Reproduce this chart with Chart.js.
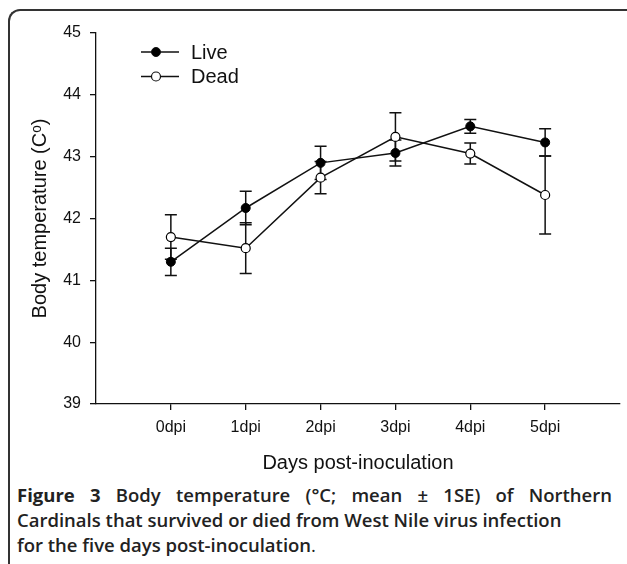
<!DOCTYPE html>
<html>
<head>
<meta charset="utf-8">
<script src="https://cdn.jsdelivr.net/npm/chart.js@4.4.0/dist/chart.umd.min.js"></script>
<style>
  html, body { margin: 0; padding: 0; background: #fff; }
  body { width: 627px; height: 564px; position: relative; overflow: hidden; }
  #frame {
    position: absolute; left: 8px; top: 9px; width: 640px; height: 600px;
    border-left: 2px solid #333; border-top: 2px solid #333;
    border-top-left-radius: 12px;
  }
  #wrap { position: absolute; left: 0; top: 0; width: 627px; height: 480px; }
  #caption {
    position: absolute; left: 17px; top: 482px; width: 595px;
    font-family: "Open Sans", sans-serif; font-size: 18.5px; font-weight: 600;
    line-height: 25px; color: #222;
  }
  #caption .j { text-align: justify; text-align-last: justify; }
  #caption b { font-weight: 700; }
</style>
</head>
<body>
<div id="frame"></div>
<div id="wrap"><canvas id="tempChart" width="627" height="480"></canvas></div>
<div id="caption">
  <div class="j"><b>Figure 3</b> Body temperature (°C; mean ± 1SE) of Northern</div>
  <div>Cardinals that survived or died from West Nile virus infection</div>
  <div>for the five days post-inoculation<span style="font-weight:400">.</span></div>
</div>
<script>
// days post-inoculation and mean body temperature (± 1 SE)
const days = ["0dpi", "1dpi", "2dpi", "3dpi", "4dpi", "5dpi"];
const liveMean = [41.30, 42.17, 42.90, 43.06, 43.49, 43.23];
const liveSE = [0.22, 0.27, 0.27, 0.21, 0.11, 0.22];
const deadMean = [41.70, 41.52, 42.66, 43.32, 43.05, 42.38];
const deadSE = [0.36, 0.41, 0.26, 0.39, 0.17, 0.63];
const yTicks = [39, 40, 41, 42, 43, 44, 45];

const fontFamily = "'Liberation Sans', Arial, sans-serif";

function toPoints(values) {
  return values.map((v, i) => ({ x: i, y: v }));
}

// vertical error bars with caps, drawn under the markers
const errorBars = {
  id: "errorBars",
  beforeDatasetsDraw(chart) {
    const ctx = chart.ctx;
    const xs = chart.scales.x, ys = chart.scales.y;
    ctx.save();
    ctx.strokeStyle = "#111";
    ctx.lineWidth = 1.5;
    chart.data.datasets.forEach(ds => {
      ds.data.forEach((p, i) => {
        const px = xs.getPixelForValue(p.x);
        const top = ys.getPixelForValue(p.y + ds.errors[i]);
        const bot = ys.getPixelForValue(p.y - ds.errors[i]);
        ctx.beginPath();
        ctx.moveTo(px, top);
        ctx.lineTo(px, bot);
        ctx.moveTo(px - 6, top);
        ctx.lineTo(px + 6, top);
        ctx.moveTo(px - 6, bot);
        ctx.lineTo(px + 6, bot);
        ctx.stroke();
      });
    });
    ctx.restore();
  }
};

// SigmaPlot style legend inside the plot area
const innerLegend = {
  id: "innerLegend",
  afterDraw(chart) {
    const ctx = chart.ctx;
    ctx.save();
    chart.data.datasets.forEach((ds, i) => {
      const y = 52 + i * 24.5;
      ctx.strokeStyle = "#111";
      ctx.lineWidth = 1.5;
      ctx.beginPath();
      ctx.moveTo(141, y);
      ctx.lineTo(179, y);
      ctx.stroke();
      ctx.beginPath();
      ctx.arc(156, y, ds.pointRadius, 0, Math.PI * 2);
      ctx.fillStyle = ds.pointBackgroundColor;
      ctx.fill();
      ctx.lineWidth = ds.pointBorderWidth;
      ctx.stroke();
      ctx.fillStyle = "#111";
      ctx.font = "20px " + fontFamily;
      ctx.textBaseline = "middle";
      ctx.fillText(ds.label, 191, y + 1);
    });
    ctx.restore();
  }
};

new Chart(document.getElementById("tempChart"), {
  type: "line",
  data: {
    datasets: [
      {
        label: "Live",
        data: toPoints(liveMean),
        errors: liveSE,
        borderColor: "#111",
        borderWidth: 1.5,
        pointRadius: 4.5,
        pointBackgroundColor: "#000",
        pointBorderColor: "#000",
        pointBorderWidth: 1,
        tension: 0
      },
      {
        label: "Dead",
        data: toPoints(deadMean),
        errors: deadSE,
        borderColor: "#111",
        borderWidth: 1.5,
        pointRadius: 4.5,
        pointBackgroundColor: "#fff",
        pointBorderColor: "#000",
        pointBorderWidth: 1.2,
        tension: 0
      }
    ]
  },
  options: {
    responsive: false,
    animation: false,
    layout: { padding: { top: 33, right: 7, left: 0, bottom: 0 } },
    plugins: {
      legend: { display: false },
      tooltip: { enabled: false }
    },
    scales: {
      x: {
        type: "linear",
        min: -1,
        max: 6,
        afterBuildTicks: s => {
          s.ticks = days.map((d, i) => ({ value: i }));
        },
        afterFit: s => { s.height = 76; },
        ticks: {
          color: "#111",
          font: { family: fontFamily, size: 16 },
          padding: 8,
          callback: v => days[v]
        },
        grid: { drawOnChartArea: false, drawTicks: true, tickLength: 6, color: "#111", lineWidth: 1.3 },
        border: { display: true, color: "#111", width: 1.3 },
        title: {
          display: true,
          text: "Days post-inoculation",
          color: "#111",
          font: { family: fontFamily, size: 20 },
          padding: { top: 0, bottom: 5 }
        }
      },
      y: {
        min: 39,
        max: 45,
        afterBuildTicks: s => {
          s.ticks = yTicks.map(v => ({ value: v }));
        },
        afterFit: s => { s.width = 96; },
        ticks: {
          color: "#111",
          font: { family: fontFamily, size: 16 },
          padding: 9
        },
        grid: { drawOnChartArea: false, drawTicks: true, tickLength: 6, color: "#111", lineWidth: 1.3 },
        border: { display: true, color: "#111", width: 1.3 },
        title: {
          display: true,
          text: "Body temperature (Cᵒ)",
          color: "#111",
          font: { family: fontFamily, size: 20 },
          padding: { top: 28, bottom: 0 }
        }
      }
    }
  },
  plugins: [errorBars, innerLegend]
});
</script>
</body>
</html>
